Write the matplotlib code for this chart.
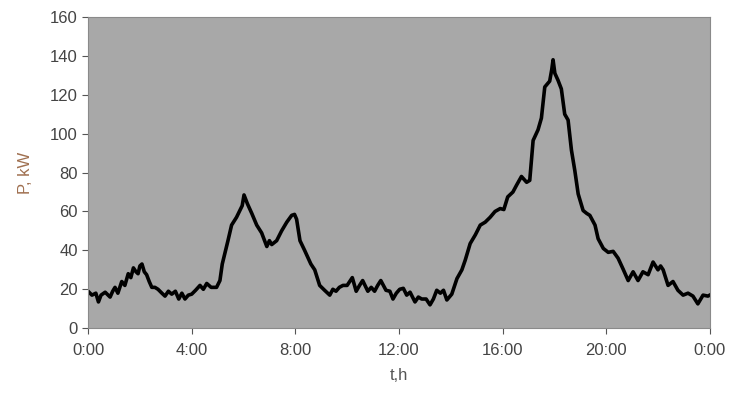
import matplotlib
matplotlib.use("Agg")
import matplotlib.pyplot as plt

# time (h) and power (kW)
hours = [0.0, 0.15, 0.3, 0.4, 0.5, 0.66, 0.85, 0.95, 1.04, 1.15, 1.3, 1.42, 1.55, 1.65,
         1.75, 1.85, 1.93, 2.0, 2.08, 2.17, 2.26, 2.36, 2.46, 2.58, 2.7, 2.85, 2.97,
         3.1, 3.23, 3.37, 3.5, 3.62, 3.74, 3.87, 4.0, 4.15, 4.32, 4.45, 4.58, 4.75,
         4.96, 5.09, 5.18, 5.29, 5.4, 5.54, 5.73, 5.86, 5.95, 6.02, 6.15, 6.32, 6.51,
         6.7, 6.9, 7.0, 7.09, 7.28, 7.47, 7.67, 7.86, 7.97, 8.05, 8.18, 8.36, 8.6,
         8.75, 8.94, 9.13, 9.33, 9.45, 9.57, 9.7, 9.84, 10.0, 10.2, 10.35, 10.48,
         10.6, 10.8, 10.93, 11.06, 11.18, 11.3, 11.5, 11.65, 11.77, 11.9, 12.03,
         12.17, 12.3, 12.43, 12.62, 12.75, 12.88, 13.05, 13.2, 13.33, 13.46, 13.6,
         13.72, 13.85, 14.04, 14.24, 14.43, 14.56, 14.75, 14.95, 15.14, 15.33,
         15.52, 15.71, 15.91, 16.05, 16.2, 16.4, 16.54, 16.73, 16.93, 17.05, 17.18,
         17.37, 17.5, 17.63, 17.82, 17.9, 17.95, 18.02, 18.14, 18.27, 18.4, 18.53,
         18.66, 18.79, 18.92, 19.11, 19.25, 19.37, 19.57, 19.69, 19.89, 20.08,
         20.27, 20.46, 20.65, 20.85, 21.04, 21.23, 21.42, 21.62, 21.81, 22.0, 22.1,
         22.2, 22.39, 22.58, 22.77, 22.97, 23.16, 23.35, 23.54, 23.74, 23.93, 24.0]
power = [19, 17, 18, 13.5, 17, 18.5, 16, 19, 21, 18, 24, 22, 28, 26,
         31, 29, 28, 32, 33, 29, 27.5, 24, 21, 21, 20, 18, 16.5,
         19, 17.5, 19, 15, 18, 15, 17, 17.5, 19.5, 22, 20, 23, 21,
         21, 24.5, 33, 39, 45, 53, 57, 60.5, 63, 68.5, 64, 59, 53,
         49, 42, 45, 43, 45, 50, 54.5, 58, 58.5, 56, 45, 40, 33,
         30, 22, 19.5, 17, 20, 19, 21, 22, 22, 26, 19, 22,
         24.5, 19, 21, 19, 22, 24.5, 19.5, 19, 15, 18, 20,
         20.5, 17, 18.5, 13.5, 16, 15, 15, 12, 15, 19.5, 18,
         19.5, 14.5, 17.5, 25.5, 30, 35, 43.5, 48, 53, 54.5,
         57, 60, 61.5, 61, 67.5, 70, 73.5, 78, 75, 76, 96.5,
         102, 108, 124, 127, 133, 138, 131, 127.5, 123, 110, 107,
         91.5, 81, 69, 60.5, 59, 58, 53, 46, 41, 39,
         39.5, 36, 30.5, 24.5, 29, 24.5, 29, 27.5, 34, 30, 32,
         30, 22, 24, 19.5, 17, 18, 16.5, 12.5, 17, 16.5, 17]

xticks = [0, 4, 8, 12, 16, 20, 24]
xticklabels = ["0:00", "4:00", "8:00", "12:00", "16:00", "20:00", "0:00"]
yticks = [0, 20, 40, 60, 80, 100, 120, 140, 160]

plt.rcParams['font.family'] = ['Liberation Sans', 'DejaVu Sans']

fig = plt.figure(figsize=(7.34, 3.94), dpi=100)
ax = fig.add_axes([0.12, 0.167, 0.847, 0.79])
ax.set_facecolor('#a8a8a8')

ax.plot(hours, power, color='black', linewidth=2.6, solid_joinstyle='round')

ax.set_xlim(0, 24)
ax.set_ylim(0, 160)
ax.set_xticks(xticks)
ax.set_xticklabels(xticklabels)
ax.set_yticks(yticks)

for s in ax.spines.values():
    s.set_color('#8a8a8a')
ax.tick_params(colors='#555555', labelcolor='#444444', labelsize=12, length=4, direction='out')
ax.tick_params(axis='x', pad=7)

ax.set_ylabel("P, kW", color='#a07050', fontsize=12, labelpad=12)
ax.set_xlabel("t,h", color='#555555', fontsize=12, labelpad=7)

fig.savefig("out.png", dpi=100)
